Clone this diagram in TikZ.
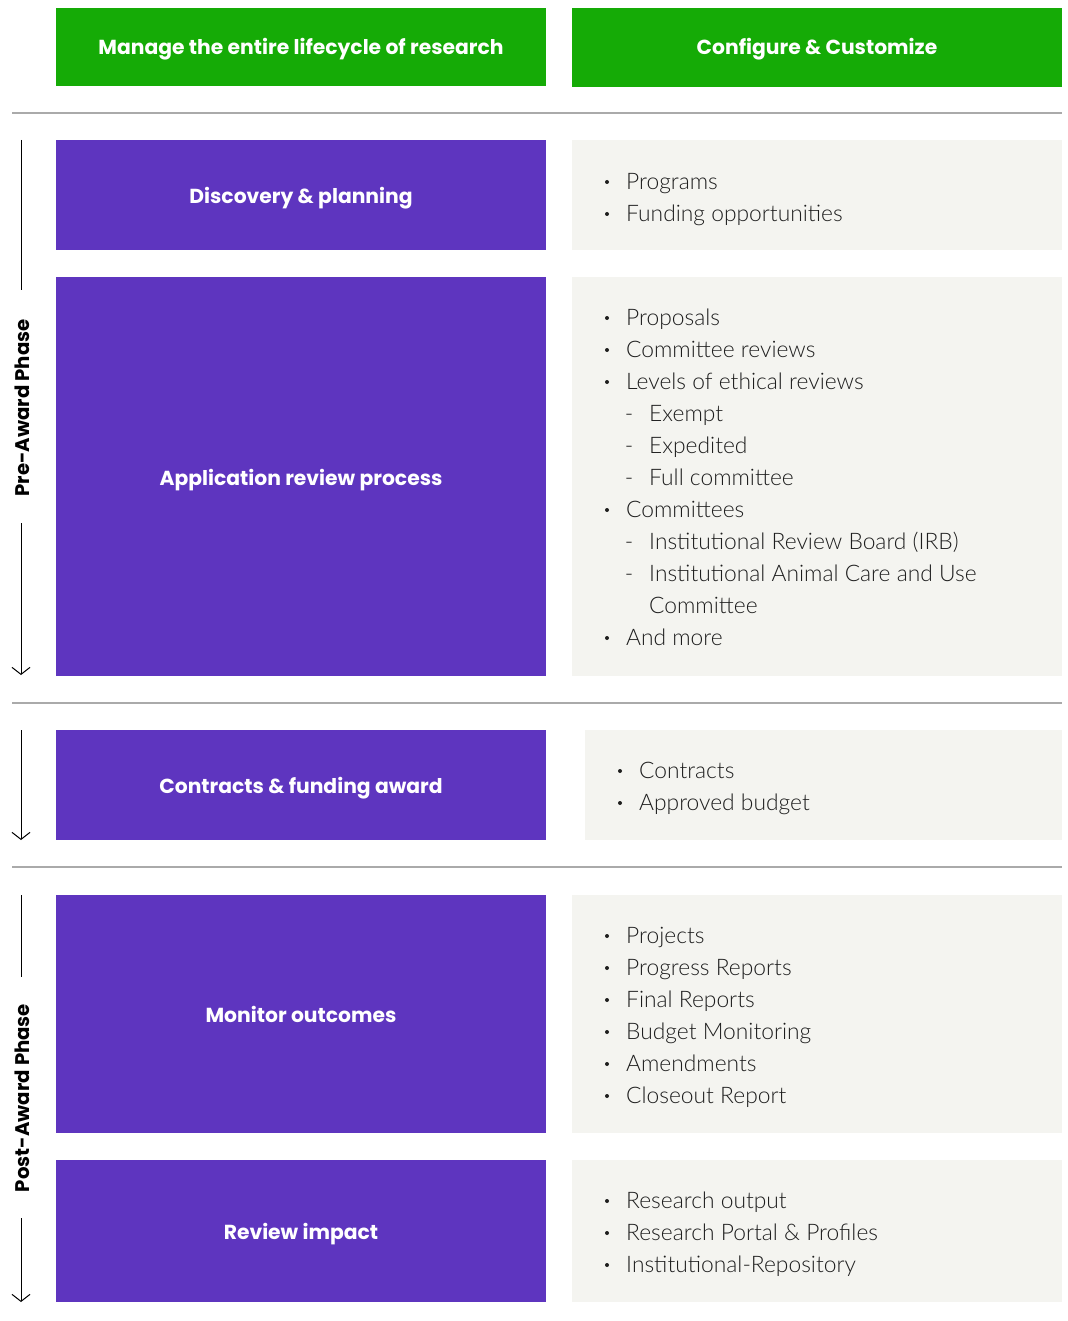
\documentclass[tikz,border=0pt]{standalone}
\usepackage{fontspec}
\setmainfont{Lato Light}
\newfontfamily\headfont{Poppins}
\usetikzlibrary{arrows.meta}
\definecolor{hdgreen}{RGB}{21,171,6}
\definecolor{phpurple}{RGB}{94,53,191}
\definecolor{listbg}{RGB}{244,244,240}
\definecolor{sepgray}{RGB}{170,170,170}
\definecolor{txtdark}{RGB}{30,30,30}
\newcommand\bitem[4]{\node[bul] (b#1) at (#2,#3) {}; \node[itxt] (t#1) at (#2+19,#3) {#4};}
\newcommand\ditem[4]{\node[dsh] (d#1) at (#2,#3) {-}; \node[itxt] (t#1) at (#2+20,#3) {#4};}
\begin{document}
\begin{tikzpicture}[x=1pt,y=-1pt,
  hdbox/.style={fill=hdgreen,draw=none},
  phbox/.style={fill=phpurple,draw=none},
  boxtxt/.style={anchor=base,inner sep=0pt,text=white,font=\headfont\bfseries\fontsize{20.3}{24}\selectfont},
  listbg/.style={fill=listbg,draw=none},
  sepline/.style={draw=sepgray,line width=1.2pt},
  bul/.style={circle,fill=txtdark,inner sep=0pt,minimum size=4pt,yshift=-1pt},
  dsh/.style={anchor=center,inner sep=0pt,text=txtdark,yshift=-5pt,font=\fontsize{22.8}{26}\selectfont},
  itxt/.style={anchor=mid west,inner sep=0pt,text=txtdark,yshift=-6pt,font=\fontsize{22.8}{26}\selectfont},
  phase/.style={rotate=90,inner sep=0pt,text=black,font=\headfont\bfseries\fontsize{19.7}{22}\selectfont},
  phline/.style={draw=black,line width=1pt},
  pharrow/.style={draw=black,line width=1pt,-{Straight Barb[length=7pt,width=18pt,line width=1pt]}}]
\useasboundingbox (0,0) rectangle (1067,1321);
% headers
\path[hdbox] (56,8) rectangle (546,86);
\node[boxtxt] (h1) at (301,55) {Manage the entire lifecycle of research};
\path[hdbox] (572,8) rectangle (1062,87);
\node[boxtxt] (h2) at (817,55) {Configure \& Customize};
% separators
\coordinate (s1a) at (12,113); \coordinate (s1b) at (1062,113);
\coordinate (s2a) at (12,703); \coordinate (s2b) at (1062,703);
\coordinate (s3a) at (12,867); \coordinate (s3b) at (1062,867);
\draw[sepline] (s1a) -- (s1b);
\draw[sepline] (s2a) -- (s2b);
\draw[sepline] (s3a) -- (s3b);
% purple boxes
\path[phbox] (56,140) rectangle (546,250);
\node[boxtxt] (p1) at (301,204) {Discovery \& planning};
\path[phbox] (56,277) rectangle (546,676);
\node[boxtxt] (p2) at (301,485) {Application review process};
\path[phbox] (56,730) rectangle (546,840);
\node[boxtxt] (p3) at (301,793) {Contracts \& funding award};
\path[phbox] (56,895) rectangle (546,1133);
\node[boxtxt] (p4) at (301,1022) {Monitor outcomes};
\path[phbox] (56,1160) rectangle (546,1302);
\node[boxtxt] (p5) at (301,1239) {Review impact};
% list backgrounds
\path[listbg] (572,140) rectangle (1062,250);
\path[listbg] (572,277) rectangle (1062,676);
\path[listbg] (585,730) rectangle (1062,840);
\path[listbg] (572,895) rectangle (1062,1133);
\path[listbg] (572,1160) rectangle (1062,1302);
% items
\bitem{a1}{607}{181}{Programs}
\bitem{a2}{607}{213}{Funding opportunities}
\bitem{c1}{607}{317}{Proposals}
\bitem{c2}{607}{349}{Committee reviews}
\bitem{c3}{607}{381}{Levels of ethical reviews}
\ditem{c4}{629}{413}{Exempt}
\ditem{c5}{629}{445}{Expedited}
\ditem{c6}{629}{477}{Full committee}
\bitem{c7}{607}{509}{Committees}
\ditem{c8}{629}{541}{Institutional Review Board (IRB)}
\ditem{c9}{629}{573}{Institutional Animal Care and Use}
\node[itxt] (tc10) at (649,605) {Committee};
\bitem{c11}{607}{637}{And more}
\bitem{e1}{620}{770}{Contracts}
\bitem{e2}{620}{802}{Approved budget}
\bitem{f1}{607}{935}{Projects}
\bitem{f2}{607}{967}{Progress Reports}
\bitem{f3}{607}{999}{Final Reports}
\bitem{f4}{607}{1031}{Budget Monitoring}
\bitem{f5}{607}{1063}{Amendments}
\bitem{f6}{607}{1095}{Closeout Report}
\bitem{g1}{607}{1200}{Research output}
\bitem{g2}{607}{1232}{Research Portal \& Profiles}
\bitem{g3}{607}{1264}{Institutional-Repository}
% phases
\node[phase] (pre) at (22,408) {Pre-Award Phase};
\coordinate (pre1) at (21,140); \coordinate (pre2) at (21,290);
\coordinate (pre3) at (21,523); \coordinate (pre4) at (21,675);
\draw[phline] (pre1) -- (pre2);
\draw[pharrow] (pre3) -- (pre4);
\coordinate (mid1) at (21,730); \coordinate (mid2) at (21,840);
\draw[pharrow] (mid1) -- (mid2);
\node[phase] (post) at (22,1098) {Post-Award Phase};
\coordinate (post1) at (21,895); \coordinate (post2) at (21,977);
\coordinate (post3) at (21,1218); \coordinate (post4) at (21,1302);
\draw[phline] (post1) -- (post2);
\draw[pharrow] (post3) -- (post4);
\end{tikzpicture}
\end{document}
